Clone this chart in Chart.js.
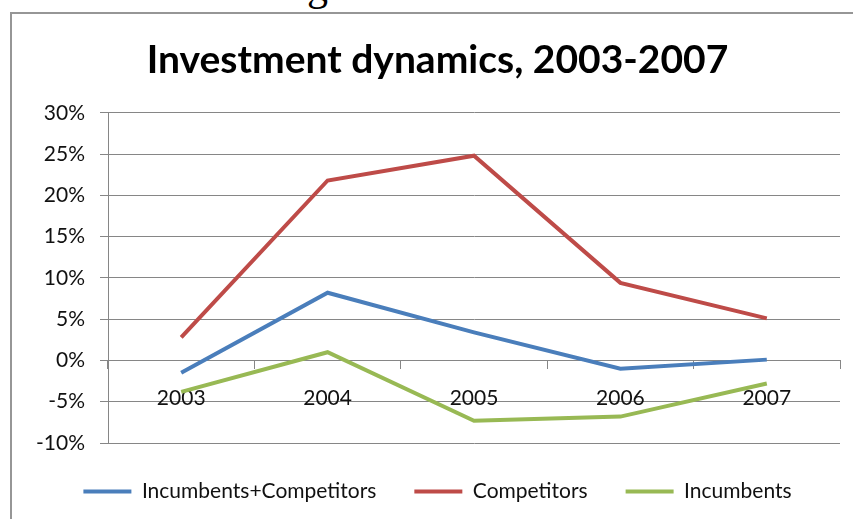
<!DOCTYPE html>
<html>
<head>
<meta charset="utf-8">
<script src="https://cdn.jsdelivr.net/npm/chart.js@4"></script>
<style>
  html, body { margin: 0; padding: 0; background: #fff; overflow: hidden; width: 853px; height: 519px; }
  .heading {
    position: absolute; left: 307px; top: -38px;
    font: 42px "Liberation Serif", "DejaVu Serif", serif; color: #000;
  }
  .frame {
    position: absolute; left: 10px; top: 12px;
    width: 870px; height: 520px;
    border: 2px solid #969696;
  }
  canvas { position: absolute; left: 0; top: 0; }
</style>
</head>
<body>
<div class="heading">g</div>
<div class="frame">
  <canvas id="chart" width="857" height="505"></canvas>
</div>
<script>
const years = ['2003', '2004', '2005', '2006', '2007'];
const incumbentsCompetitors = [-1.5, 8.2, 3.4, -1.0, 0.1];
const competitors = [2.8, 21.8, 24.8, 9.4, 5.1];
const incumbents = [-3.8, 1.0, -7.3, -6.8, -2.8];
const yTicks = [-10, -5, 0, 5, 10, 15, 20, 25, 30];

const FONT = 'Lato';
const GRID = '#868686';

function series(label, values, color) {
    return {
        label: label,
        data: values,
        borderColor: color,
        backgroundColor: color,
        borderWidth: 4,
        pointRadius: 0,
        tension: 0,
        fill: false
    };
}

new Chart(document.getElementById('chart'), {
    type: 'line',
    data: {
        labels: years,
        datasets: [
            series('Incumbents+Competitors', incumbentsCompetitors, '#4A7EBB'),
            series('Competitors', competitors, '#BE4B48'),
            series('Incumbents', incumbents, '#98B954')
        ]
    },
    options: {
        responsive: false,
        animation: false,
        layout: { padding: { top: 0, left: 23, right: 29, bottom: 7 } },
        scales: {
            x: {
                type: 'category',
                offset: true,
                position: { y: 0 },
                grid: {
                    offset: true,
                    drawOnChartArea: false,
                    tickLength: 8,
                    color: GRID
                },
                border: { color: GRID, width: 1 },
                ticks: {
                    padding: 17,
                    color: '#111',
                    font: { family: FONT, size: 21 }
                }
            },
            y: {
                min: -10,
                max: 30,
                afterBuildTicks: scale => {
                    scale.ticks = yTicks.map(v => ({ value: v }));
                },
                afterFit: scale => { scale.width = 73; },
                grid: { color: GRID, tickLength: 8 },
                border: { color: GRID, width: 1 },
                ticks: {
                    padding: 15,
                    color: '#111',
                    font: { family: FONT, size: 21 },
                    callback: v => v + '%'
                }
            }
        },
        plugins: {
            title: {
                display: true,
                text: 'Investment dynamics, 2003-2007',
                color: '#000',
                font: { family: FONT, size: 39, weight: 'bold' },
                padding: { top: 23, bottom: 29 }
            },
            legend: {
                position: 'bottom',
                labels: {
                    boxWidth: 48,
                    boxHeight: 4,
                    padding: 38,
                    color: '#111',
                    font: { family: FONT, size: 21 },
                    generateLabels: chart =>
                        Chart.defaults.plugins.legend.labels.generateLabels(chart).map(item => ({
                            ...item,
                            fillStyle: item.strokeStyle,
                            lineWidth: 0
                        }))
                }
            },
            tooltip: { enabled: false }
        }
    }
});
</script>
</body>
</html>
